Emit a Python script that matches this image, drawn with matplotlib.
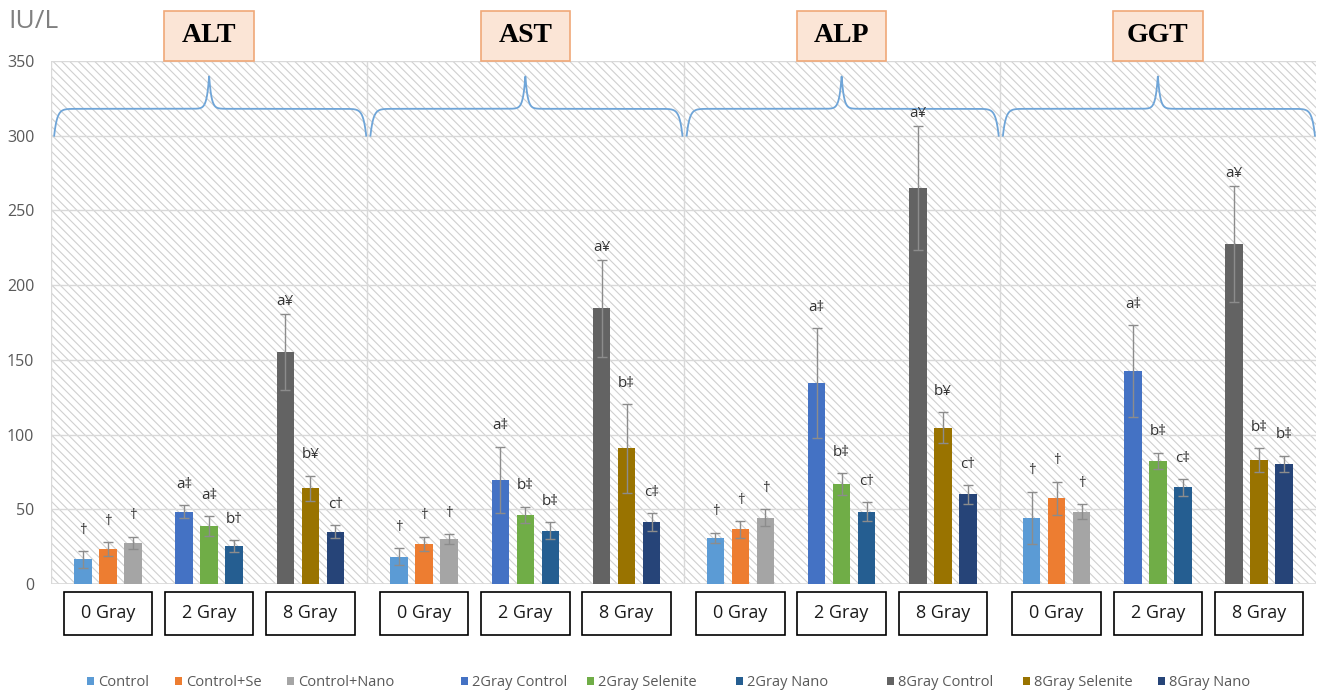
import numpy as np
import matplotlib
matplotlib.use("Agg")
import matplotlib.pyplot as plt
from matplotlib.patches import Rectangle
from matplotlib.transforms import blended_transform_factory

plt.rcParams['font.family'] = ['Open Sans', 'DejaVu Sans']
plt.rcParams['hatch.linewidth'] = 0.8

# data
enzymes = ["ALT", "AST", "ALP", "GGT"]
doses = ["0 Gray", "2 Gray", "8 Gray"]
series = ["Control", "Control+Se", "Control+Nano",
          "2Gray Control", "2Gray Selenite", "2Gray Nano",
          "8Gray Control", "8Gray Selenite", "8Gray Nano"]
colors = ["#5B9BD5", "#ED7D31", "#A5A5A5",
          "#4472C4", "#70AD47", "#255E91",
          "#636363", "#997300", "#264478"]

alt_mean = [16.5, 23.2, 27.4, 48.4, 38.8, 25.4, 155.3, 64.0, 35.0]
alt_err = [5.5, 4.7, 4.3, 4.5, 6.7, 4.1, 25.5, 8.5, 4.5]
alt_sig = ["†", "†", "†", "a‡", "a‡", "b†", "a¥", "b¥", "c†"]

ast_mean = [18.3, 27.0, 30.1, 69.6, 46.2, 35.7, 184.5, 90.8, 41.3]
ast_err = [5.6, 4.7, 3.4, 22.3, 5.6, 5.6, 32.4, 29.7, 6.0]
ast_sig = ["†", "†", "†", "a‡", "b‡", "b‡", "a¥", "b‡", "c‡"]

alp_mean = [31.0, 36.6, 44.4, 134.3, 66.7, 48.4, 265.3, 104.6, 60.0]
alp_err = [3.4, 5.6, 5.6, 36.8, 7.4, 6.3, 41.5, 10.3, 6.3]
alp_sig = ["†", "†", "†", "a‡", "b‡", "c†", "a¥", "b¥", "c†"]

ggt_mean = [44.4, 57.4, 48.4, 142.6, 82.3, 64.7, 227.4, 83.0, 80.3]
ggt_err = [17.4, 11.1, 4.9, 30.8, 5.6, 5.6, 39.0, 7.8, 5.6]
ggt_sig = ["†", "†", "†", "a‡", "b‡", "c‡", "a¥", "b‡", "b‡"]

means = [alt_mean, ast_mean, alp_mean, ggt_mean]
errs = [alt_err, ast_err, alp_err, ggt_err]
sigs = [alt_sig, ast_sig, alp_sig, ggt_sig]

# layout
group_step = 0.96
bar_step = 0.237
bar_w = 0.165

fig = plt.figure(figsize=(13.18, 6.93), dpi=100)
ax = fig.add_axes([51 / 1318, 109 / 693, 1265 / 1318, 523 / 693])
ax.set_xlim(-0.5, 11.5)
ax.set_ylim(0, 350)

# hatched background
ax.add_patch(Rectangle((0, 0), 1, 1, transform=ax.transAxes, facecolor="white",
                       edgecolor="#D0D0D0", hatch="\\\\\\\\", lw=0, zorder=0))

def xpos(panel, s):
    return panel * 3 + 1 + (s // 3 - 1) * group_step + (s % 3 - 1) * bar_step

for s in range(9):
    xs = [xpos(p, s) for p in range(4)]
    hs = [means[p][s] for p in range(4)]
    es = [errs[p][s] for p in range(4)]
    ax.bar(xs, hs, bar_w, color=colors[s], label=series[s], zorder=2)
    ax.errorbar(xs, hs, yerr=es, fmt="none", ecolor="#8C8C8C", elinewidth=1,
                capsize=3.5, capthick=1, zorder=3)
    gap = 9 if s == 6 else 15
    for p in range(4):
        ax.annotate(sigs[p][s], (xs[p], hs[p] + es[p]), xytext=(0, gap),
                    textcoords="offset points", ha="center", va="center",
                    fontsize=11, color="#333333", zorder=4)

# grid and separators
ax.set_yticks(np.arange(0, 351, 50))
ax.yaxis.grid(True, color="#D9D9D9", lw=1, zorder=0.5)
ax.set_axisbelow(True)
for xv in [-0.5, 2.5, 5.5, 8.5]:
    ax.axvline(xv, color="#D9D9D9", lw=1, zorder=0.5)
for sp in ax.spines.values():
    sp.set_visible(False)
ax.axhline(0, color="#D9D9D9", lw=1.2, zorder=0.6)
ax.set_xticks([])
ax.tick_params(axis="y", length=0, pad=12, labelsize=11.5, labelcolor="#595959")

# curly braces over each enzyme
for p in range(4):
    x0 = p * 3 - 0.5 + 0.03
    x1 = p * 3 + 2.5 - 0.01
    xm = p * 3 + 1
    xx = np.linspace(x0, x1, 3000)
    yy = (318 - 18 * np.exp(-(xx - x0) / 0.028) - 18 * np.exp(-(x1 - xx) / 0.028)
          + 22 * np.exp(-np.abs(xx - xm) / 0.022))
    ax.plot(xx, yy, color="#6FA5D8", lw=1.3, zorder=1.5)

trans = blended_transform_factory(ax.transData, ax.transAxes)

# enzyme title boxes
for p, name in enumerate(enzymes):
    xm = p * 3 + 1
    ax.add_patch(Rectangle((xm - 0.425, 1.0), 0.85, 0.096, transform=trans,
                           facecolor="#FBE5D6", edgecolor="#F0A878", lw=1.2,
                           clip_on=False, zorder=5))
    ax.text(xm, 1.048, name, transform=trans, ha="center", va="center",
            fontsize=20, fontweight="bold", family="Liberation Serif", zorder=6)

# dose boxes under each group
for p in range(4):
    for d, lab in enumerate(doses):
        xc = p * 3 + 1 + (d - 1) * group_step
        ax.add_patch(Rectangle((xc - 0.42, -0.097), 0.84, 0.082, transform=trans,
                               facecolor="white", edgecolor="black", lw=1.2,
                               clip_on=False, zorder=5))
        ax.text(xc, -0.056, lab, transform=trans, ha="center", va="center",
                fontsize=13, color="#1a1a1a", zorder=6)

fig.text(8 / 1318, 1 - 21 / 693, "IU/L", ha="left", va="center", fontsize=19,
         color="#808080")

# legend, one entry at a time so the spacing follows the original
handles, labels = ax.get_legend_handles_labels()
for h, l, xl in zip(handles, labels, [87, 175, 287, 461, 587, 736, 887, 1023, 1158]):
    fig.legend([h], [l], loc="center left", bbox_to_anchor=(xl / 1318, 1 - 683 / 693),
               frameon=False, fontsize=10.5, labelcolor="#595959",
               handlelength=0.45, handleheight=0.45, handletextpad=0.3,
               borderpad=0, borderaxespad=0)

fig.savefig("out.png", dpi=100)
